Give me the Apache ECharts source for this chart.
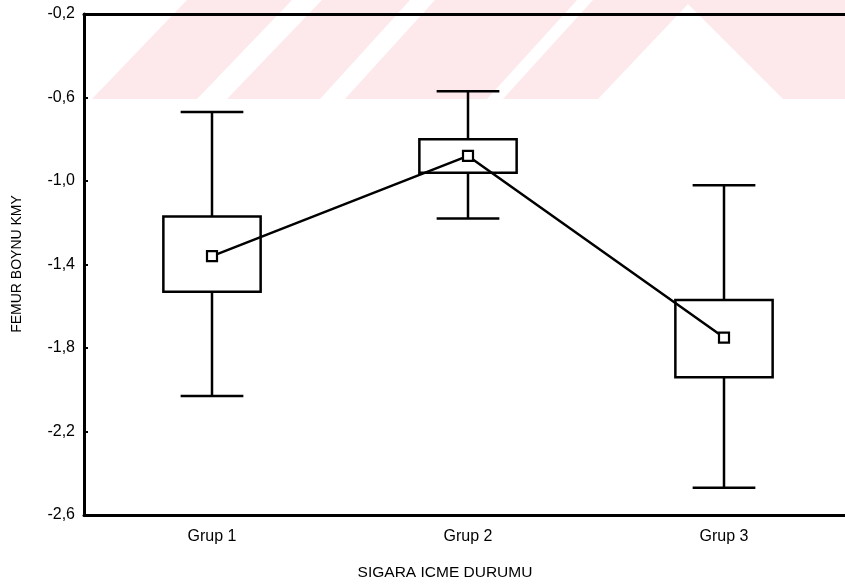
<!DOCTYPE html>
<html>
<head>
<meta charset="utf-8">
<script src="https://cdn.jsdelivr.net/npm/echarts@6/dist/echarts.min.js"></script>
<style>
  html, body { margin: 0; padding: 0; background: #fff; }
  #chart { width: 845px; height: 587px; }
</style>
</head>
<body>
<div id="chart"></div>
<script>
// Femur neck T-score by smoking group: mean, mean ± SE box, whisker range
const categories = ['Grup 1', 'Grup 2', 'Grup 3'];
const means      = [-1.36, -0.88, -1.75];
const boxLow     = [-1.53, -0.96, -1.94];
const boxHigh    = [-1.17, -0.80, -1.57];
const whiskerLow = [-2.03, -1.18, -2.47];
const whiskerHigh= [-0.67, -0.57, -1.02];
const yTicks = { min: -2.6, max: -0.2, step: 0.4 };

const FONT = '"Liberation Sans", Arial, Helvetica, sans-serif';
const INK = '#000';

const boxData = categories.map((c, i) =>
  [i, whiskerLow[i], boxLow[i], boxHigh[i], whiskerHigh[i]]);

function renderBox(params, api) {
  const i = api.value(0);
  const pLo = api.coord([i, api.value(1)]);
  const pBl = api.coord([i, api.value(2)]);
  const pBh = api.coord([i, api.value(3)]);
  const pHi = api.coord([i, api.value(4)]);
  const band = api.size([1, 0])[0];
  const bw = band * 0.38;
  const cw = band * 0.245;
  const x = pLo[0];
  const st = { stroke: INK, lineWidth: 2.5, fill: null };
  return {
    type: 'group',
    children: [
      { type: 'line', shape: { x1: x, y1: pHi[1], x2: x, y2: pBh[1] }, style: st },
      { type: 'line', shape: { x1: x, y1: pBl[1], x2: x, y2: pLo[1] }, style: st },
      { type: 'line', shape: { x1: x - cw / 2, y1: pHi[1], x2: x + cw / 2, y2: pHi[1] }, style: st },
      { type: 'line', shape: { x1: x - cw / 2, y1: pLo[1], x2: x + cw / 2, y2: pLo[1] }, style: st },
      { type: 'rect', shape: { x: x - bw / 2, y: pBh[1], width: bw, height: pBl[1] - pBh[1] },
        style: { stroke: INK, lineWidth: 2.5, fill: 'rgba(0,0,0,0)' } }
    ]
  };
}

// faint background watermark in the top band
const WM = '#fde8ec';
const watermark = [
  [[92, 99], [187, 0], [292, 0], [197, 99]],
  [[227, 99], [322, 0], [410, 0], [320, 99]],
  [[345, 99], [435, 0], [577, 0], [487, 99]],
  [[503, 99], [593, 0], [845, 0], [845, 99], [783, 99], [688, 4], [598, 99]]
].map(pts => ({
  type: 'polygon', z: -10, silent: true,
  shape: { points: pts },
  style: { fill: WM }
}));

const chart = echarts.init(document.getElementById('chart'), null, { renderer: 'canvas' });
chart.setOption({
  animation: false,
  backgroundColor: '#fff',
  textStyle: { fontFamily: FONT, color: INK },
  grid: { left: 84, top: 14, width: 768, height: 501, containLabel: false, outerBoundsMode: 'none' },
  graphic: watermark.concat([
    {
      type: 'text', x: 445, y: 573, z: 10,
      style: { text: 'SIGARA ICME DURUMU', font: '15.5px ' + FONT, fill: INK,
               align: 'center', verticalAlign: 'middle' }
    },
    {
      type: 'text', x: 17, y: 264, rotation: Math.PI / 2, z: 10,
      style: { text: 'FEMUR BOYNU KMY', font: '14px ' + FONT, fill: INK,
               align: 'center', verticalAlign: 'middle' }
    }
  ]),
  xAxis: [
    {
      type: 'category', data: categories, boundaryGap: true, position: 'bottom',
      axisLine: { lineStyle: { color: INK, width: 3 } },
      axisTick: { inside: true, length: 4, lineStyle: { color: INK, width: 2 } },
      axisLabel: { color: INK, fontSize: 16, fontFamily: FONT, margin: 14 },
      splitLine: { show: false }
    },
    {
      type: 'category', data: categories, boundaryGap: true, position: 'top',
      axisLine: { lineStyle: { color: INK, width: 3 } },
      axisTick: { inside: true, length: 4, lineStyle: { color: INK, width: 2 } },
      axisLabel: { show: false },
      splitLine: { show: false }
    }
  ],
  yAxis: {
    type: 'value', min: yTicks.min, max: yTicks.max, interval: yTicks.step,
    axisLine: { show: true, lineStyle: { color: INK, width: 3 } },
    axisTick: { show: true, inside: true, length: 4, lineStyle: { color: INK, width: 2 } },
    axisLabel: {
      color: INK, fontSize: 16, fontFamily: FONT, margin: 9,
      formatter: v => v.toFixed(1).replace('.', ',')
    },
    splitLine: { show: false }
  },
  series: [
    {
      type: 'custom', data: boxData, renderItem: renderBox, z: 3,
      encode: { x: 0, y: [1, 2, 3, 4] }, clip: false
    },
    {
      type: 'line', data: means, z: 5,
      symbol: 'rect', symbolSize: 10,
      lineStyle: { color: INK, width: 2.5 },
      itemStyle: { color: '#fff', borderColor: INK, borderWidth: 2.2 }
    }
  ]
});
</script>
</body>
</html>
